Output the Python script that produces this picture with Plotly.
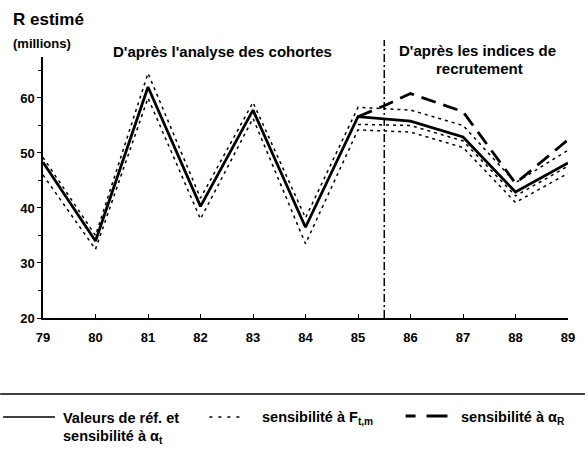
import plotly.graph_objects as go

years = [79, 80, 81, 82, 83, 84, 85, 86, 87, 88, 89]
ref_values = [48.3, 34.0, 62.0, 40.3, 57.8, 36.5, 56.6, 55.8, 52.9, 42.9, 48.2]
f_high = [49.2, 35.0, 64.5, 41.8, 59.2, 38.2, 58.3, 57.8, 55.0, 44.6, 50.5]
f_low = [46.0, 32.5, 60.0, 38.0, 56.3, 33.5, 54.2, 53.8, 51.0, 41.0, 46.3]
f_mid_years = [85, 86, 87, 88, 89]
f_mid = [55.2, 55.0, 52.2, 42.2, 47.6]
alpha_r_years = [85, 85.5, 86, 87, 88, 89]
alpha_r = [56.6, 58.6, 60.8, 57.5, 44.5, 52.4]
tick_labels = ["79", "80", "81", "82", "83", "84", "85", "86", "87", "88", "89"]
split_year = 85.5

FONT = "Liberation Sans, Arial, sans-serif"

fig = go.Figure()
dot_style = dict(color="black", width=1.5, dash="3px,4px")
fig.add_trace(go.Scatter(x=years, y=f_high, mode="lines", line=dot_style, showlegend=False))
fig.add_trace(go.Scatter(x=years, y=f_low, mode="lines", line=dot_style, showlegend=False))
fig.add_trace(go.Scatter(x=f_mid_years, y=f_mid, mode="lines", line=dot_style, showlegend=False))
fig.add_trace(go.Scatter(x=alpha_r_years, y=alpha_r, mode="lines",
                         line=dict(color="black", width=2.8, dash="15px,8px"), showlegend=False))
fig.add_trace(go.Scatter(x=years, y=ref_values, mode="lines",
                         line=dict(color="black", width=2.8), showlegend=False))

W, H = 587, 454
L, R, T, B = 43, 17, 57, 136
pw, ph = W - L - R, H - T - B
def px(x): return (x - L) / pw
def py(y): return (H - B - y) / ph

fig.add_shape(type="line", xref="x", yref="paper", x0=split_year, x1=split_year, y0=0, y1=py(40),
              line=dict(color="black", width=1.5, dash="8px,3px,2px,3px"))

fig.update_layout(
    width=W, height=H,
    margin=dict(l=L, r=R, t=T, b=B),
    paper_bgcolor="white", plot_bgcolor="white",
    font=dict(family=FONT, color="black", size=13),
    xaxis=dict(range=[79, 89], tickvals=years, ticktext=tick_labels, showgrid=False,
               zeroline=False, showline=True, linecolor="black", linewidth=1.5,
               ticks="inside", ticklen=4, tickcolor="black", ticklabelstandoff=7,
               tickfont=dict(size=13, weight="bold", family=FONT)),
    yaxis=dict(range=[20, 67.45], tickvals=[20, 30, 40, 50, 60], showgrid=False,
               zeroline=False, showline=True, linecolor="black", linewidth=1.5,
               ticks="outside", ticklen=4, tickcolor="black",
               minor=dict(tickvals=[25, 35, 45, 55, 65], ticks="outside", ticklen=3, tickcolor="black"),
               tickfont=dict(size=13, weight="bold", family=FONT)),
)

ann = []
def txt(x, y, s, size=13, xanchor="left"):
    ann.append(dict(x=x, y=y, xref="paper", yref="paper", text=s, showarrow=False,
                    xanchor=xanchor, yanchor="middle", borderpad=0,
                    font=dict(size=size, family=FONT, weight="bold", color="black")))

txt(px(12), py(20), "R estimé", size=17)
txt(px(12), py(43), "(millions)", size=13)
txt(px(223), py(51), "D'après l'analyse des cohortes", size=15, xanchor="center")
txt(px(479), py(50), "D'après les indices de", size=15, xanchor="center")
txt(px(481), py(68), "recrutement", size=15, xanchor="center")

txt(px(62), py(418), "Valeurs de réf. et", size=14.5)
txt(px(62), py(437), "sensibilité à α<sub>t</sub>", size=14.5)
txt(px(262), py(418), "sensibilité à F<sub>t,m</sub>", size=14.5)
txt(px(462), py(418), "sensibilité à α<sub>R</sub>", size=14.5)
fig.update_layout(annotations=ann)

# separator and legend samples
fig.add_shape(type="line", xref="paper", yref="paper", x0=px(0), x1=px(587), y0=py(394), y1=py(394),
              line=dict(color="black", width=1.5))
fig.add_shape(type="line", xref="paper", yref="paper", x0=px(3), x1=px(55), y0=py(417), y1=py(417),
              line=dict(color="black", width=1.5))
fig.add_shape(type="line", xref="paper", yref="paper", x0=px(210), x1=px(246), y0=py(417), y1=py(417),
              line=dict(color="black", width=1.5, dash="3px,6px"))
fig.add_shape(type="line", xref="paper", yref="paper", x0=px(407), x1=px(417), y0=py(416), y1=py(416),
              line=dict(color="black", width=3))
fig.add_shape(type="line", xref="paper", yref="paper", x0=px(428), x1=px(449), y0=py(416), y1=py(416),
              line=dict(color="black", width=3))

fig.write_html("out.html", config={"displayModeBar": False},
               post_script="document.body.style.margin='0px';")
